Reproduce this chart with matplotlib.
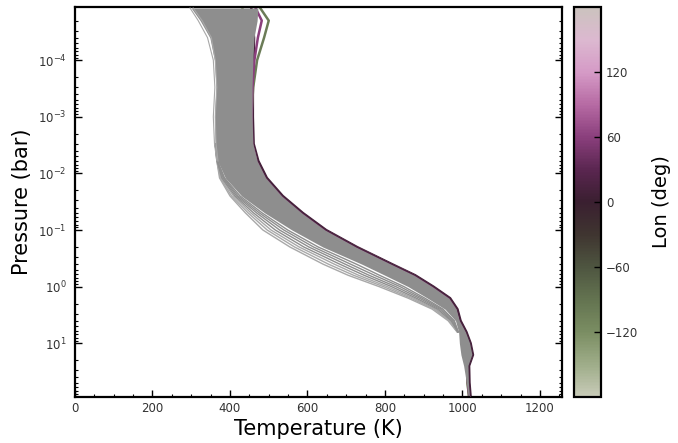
import matplotlib
matplotlib.use("Agg")
import matplotlib.pyplot as plt
import numpy as np
from matplotlib.colors import LinearSegmentedColormap, Normalize
from matplotlib.cm import ScalarMappable

# pressure grid (bar) shared by the profile edges
pressure = [1.2e-5, 2e-5, 4e-5, 1e-4, 3e-4, 1e-3, 3e-3, 6e-3, 1.2e-2, 2.5e-2,
            5e-2, 0.1, 0.2, 0.4, 0.63, 1.0, 1.6, 2.5, 4.0, 6.3,
            10, 16, 25, 50, 89]

# hot (right) edge of the bundle of gray profiles
temp_hot = [472, 470, 462, 459, 457, 457, 459, 470, 492, 533,
            585, 645, 725, 815, 875, 922, 965, 984, 992, 1008,
            1020, 1026, 1015, 1016, 1020]
# left edge of the dense part of the bundle
temp_core = [300, 323, 348, 360, 364, 360, 362, 368, 388, 430,
             490, 560, 640, 740, 800, 860, 910, 955, 982, 990,
             992, 996, 1003, 1010, 1015]

# ragged cool profiles at the top of the bundle
top_pressure = [1.2e-5, 2e-5, 4e-5, 1e-4, 3e-4, 1e-3, 3e-3, 6e-3]
top_temps = [
    [297, 318, 342, 357, 361, 357, 360, 366],
    [305, 328, 352, 362, 366, 362, 364, 369],
]

# separated cool profiles (lower part of the bundle)
fan_pressure = [3e-3, 6e-3, 1.2e-2, 2.5e-2, 5e-2, 0.1, 0.2, 0.4, 0.63, 1.0,
                1.6, 2.5, 4.0, 6.3]
fan_temps = [
    [362, 366, 373, 400, 440, 485, 555, 640, 705, 785, 860, 922, 963, 986],
    [362, 366, 375, 404, 447, 496, 567, 654, 719, 796, 867, 927, 966, 987],
    [362, 367, 377, 409, 454, 506, 579, 669, 732, 806, 874, 931, 968, 987],
    [362, 367, 379, 413, 461, 517, 591, 683, 746, 817, 881, 936, 971, 988],
    [362, 367, 382, 417, 469, 528, 604, 697, 759, 828, 889, 941, 974, 988],
    [362, 367, 384, 421, 476, 539, 616, 711, 773, 839, 896, 946, 977, 989],
    [362, 368, 386, 426, 483, 549, 628, 726, 786, 849, 903, 950, 979, 989],
]

# coloured profiles (longitude in deg) that stick out of the gray bundle
col_lons = [10, -140, -100, 60]
col_temps = [
    [455, 458, 462, 461, 459, 459, 461, 473, 495, 536,
     588, 648, 728, 818, 878, 925, 968, 987, 995, 1010,
     1021, 1027, 1017, 1018, 1021],
    [432, 438, 450, 456, 455, 455, 456, 467, 489, 530,
     582, 642, 722, 812, 872, 919, 962, 981, 989, 1005,
     1017, 1023, 1012, 1013, 1017],
    [478, 500, 488, 470, 460, 455, 456, 467, 489, 530,
     582, 642, 722, 812, 872, 919, 962, 981, 989, 1005,
     1017, 1023, 1012, 1013, 1017],
    [466, 482, 472, 463, 458, 456, 457, 468, 490, 531,
     583, 643, 723, 813, 873, 920, 963, 982, 990, 1006,
     1018, 1024, 1013, 1014, 1018],
]

cbar_ticks = [-120, -60, 0, 60, 120]

lon_colors = ["#c8cbb8", "#9eac88", "#7a8d62", "#637350", "#4e5540", "#3f3530",
              "#3a1f30", "#5a2650", "#8a3f7c", "#b66aa3", "#d59ac6", "#dcb8d0",
              "#cbc3be"]
cmap = LinearSegmentedColormap.from_list("lon", lon_colors)
norm = Normalize(-180, 180)

gray = "#8e8e8e"

fig = plt.figure(figsize=(6.78, 4.43), dpi=100)
ax = fig.add_axes([0.1106, 0.1038, 0.7184, 0.8804])
cax = fig.add_axes([0.8466, 0.1038, 0.0398, 0.8804])

for lon, temps in zip(col_lons, col_temps):
    ax.plot(temps, pressure, color=cmap(norm(lon)), lw=1.8, zorder=1)

ax.fill_betweenx(pressure, temp_core, temp_hot, color=gray, lw=0, zorder=2)
for i, temps in enumerate(fan_temps):
    shade = "#a8a8a8" if i < 3 else gray
    ax.plot(temps, fan_pressure, color=shade, lw=1.0, zorder=2)
for temps in top_temps:
    ax.plot(temps, top_pressure, color="#a8a8a8", lw=0.8, zorder=3)
ax.plot(col_temps[0][7:], pressure[7:], color=cmap(norm(col_lons[0])),
        lw=0.8, zorder=3)

ax.set_yscale("log")
ax.set_ylim(89, 1.15e-5)
ax.set_yticks([1e-4, 1e-3, 1e-2, 1e-1, 1, 10])
ax.set_xlim(0, 1257)
ax.set_xticks([0, 200, 400, 600, 800, 1000, 1200])
ax.set_xticks(np.arange(0, 1257, 50), minor=True)
ax.tick_params(which="both", direction="in", right=True, labelsize=8.5,
               labelcolor="#333333")
ax.tick_params(axis="y", which="major", pad=6)
ax.tick_params(which="major", length=5, width=1)
ax.tick_params(which="minor", length=2.5, width=0.8)
for s in ax.spines.values():
    s.set_linewidth(1.6)
ax.set_xlabel("Temperature (K)", fontsize=15, labelpad=3)
ax.set_ylabel("Pressure (bar)", fontsize=15, labelpad=4)

sm = ScalarMappable(norm=norm, cmap=cmap)
cb = fig.colorbar(sm, cax=cax, ticks=cbar_ticks)
cb.outline.set_linewidth(1.6)
cax.tick_params(direction="in", length=5, width=1, labelsize=8.5,
                labelcolor="#333333")
cb.set_label("Lon (deg)", fontsize=14, labelpad=10)

fig.savefig("out.png", dpi=100)
